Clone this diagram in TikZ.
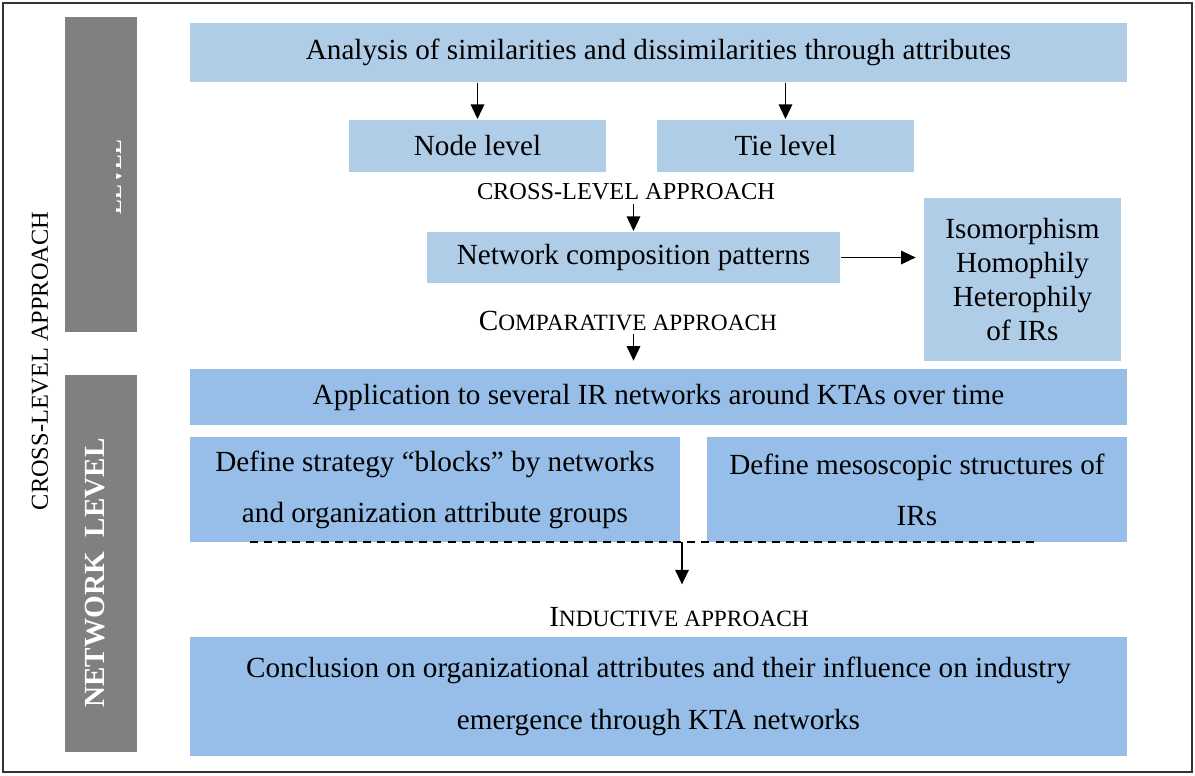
\documentclass[tikz,border=0pt]{standalone}
\usepackage{fontspec}
\setmainfont{Liberation Serif}
\usetikzlibrary{arrows.meta,positioning,calc}
\definecolor{paleblue}{HTML}{B0CDE8}
\definecolor{midblue}{HTML}{96BEE9}
\definecolor{bargray}{HTML}{808080}

\begin{document}
\begin{tikzpicture}[x=0.01445cm, y=-0.01445cm, >={Triangle[length=6pt,width=5.5pt]}, line width=0.8pt,
  font=\fontsize{12}{14}\selectfont,
  lbox/.style={fill=paleblue, inner sep=0pt, align=center},
  dbox/.style={fill=midblue, inner sep=0pt, align=center},
  bar/.style={fill=bargray, minimum width=1.04cm, inner sep=0pt},
  appr/.style={inner sep=1pt, font=\fontsize{10}{12}\selectfont}]
\useasboundingbox (0,0) rectangle (1195,775);
\draw[black!80, line width=0.9pt] (3,3) rectangle (1192,772);
% level bars on the left
\node[bar, minimum height=4.552cm] (bar1) at (101,174.5) {};
\node[bar, minimum height=5.448cm] (bar2) at (101,563.5) {};
\begin{scope}
\clip (116,140) rectangle (121,216);
\node[rotate=90, anchor=base, text=white, font=\fontsize{9}{11}\selectfont\bfseries] (toplvl) at (121,177) {LEVEL};
\end{scope}
\node[rotate=90, text=white, font=\fontsize{12}{14}\selectfont\bfseries] (netlvl) at (95,573) {NETWORK\ \ LEVEL};
\node[rotate=90, font=\fontsize{10}{12}\selectfont] (sideappr) at (40,361) {CROSS-LEVEL APPROACH};
% upper part
\node[lbox, minimum width=13.54cm, minimum height=0.853cm] (attr) at (658.5,52.5) {Analysis of similarities and dissimilarities through attributes};
\node[lbox, minimum width=3.714cm, minimum height=0.751cm] (nodelvl) at (477.5,146) {Node level};
\node[lbox, minimum width=3.714cm, minimum height=0.751cm] (tielvl) at (785.5,146) {Tie level};
\node[appr] (cross) at (626,192) {CROSS-LEVEL APPROACH};
\node[lbox, minimum width=5.968cm, minimum height=0.737cm] (comppat) at (633.5,257.5) {Network composition patterns};
\node[lbox, minimum width=2.847cm, minimum height=2.355cm] (iso) at (1022.5,279.5) {Isomorphism\\Homophily\\Heterophily\\of IRs};
\node[inner sep=1pt] (compar) at (628,321) {C{\fontsize{9.6}{12}\selectfont OMPARATIVE APPROACH}};
\draw[->] (nodelvl.north |- attr.south) -- (nodelvl.north);
\draw[->] (tielvl.north |- attr.south) -- (tielvl.north);
\draw[->] (comppat.north |- cross.south) -- (comppat.north);
\draw[->, shorten >=3pt] (comppat.east) -- (iso.west |- comppat.east);
% lower part
\node[dbox, minimum width=13.54cm, minimum height=0.809cm] (app) at (658.5,397) {Application to several IR networks around KTAs over time};
\node[dbox, minimum width=7.08cm, minimum height=1.517cm, font=\fontsize{12}{21}\selectfont] (blocks) at (435,489.5) {Define strategy “blocks” by networks\\and organization attribute groups};
\node[dbox, minimum width=6.069cm, minimum height=1.517cm, font=\fontsize{12}{21}\selectfont] (meso) at (917,489.5) {Define mesoscopic structures of\\IRs};
\node[inner sep=1pt] (induct) at (679,617) {I{\fontsize{9.6}{12}\selectfont NDUCTIVE APPROACH}};
\node[dbox, minimum width=13.54cm, minimum height=1.72cm, font=\fontsize{12}{21.4}\selectfont] (concl) at (658.5,696.5) {Conclusion on organizational attributes and their influence on industry\\emergence through KTA networks};
\coordinate (dashl) at (250,542);
\coordinate (dashr) at (1040,542);
\coordinate (join) at (682,542);
\draw[dash pattern=on 3.3pt off 2.5pt] (dashl) -- (dashr);
\draw[->, shorten >=3pt] (comppat.north |- compar.south) -- (app.north -| comppat.north);
\draw[->, shorten >=8pt] (join) -- (join |- induct.north);
\end{tikzpicture}
\end{document}
